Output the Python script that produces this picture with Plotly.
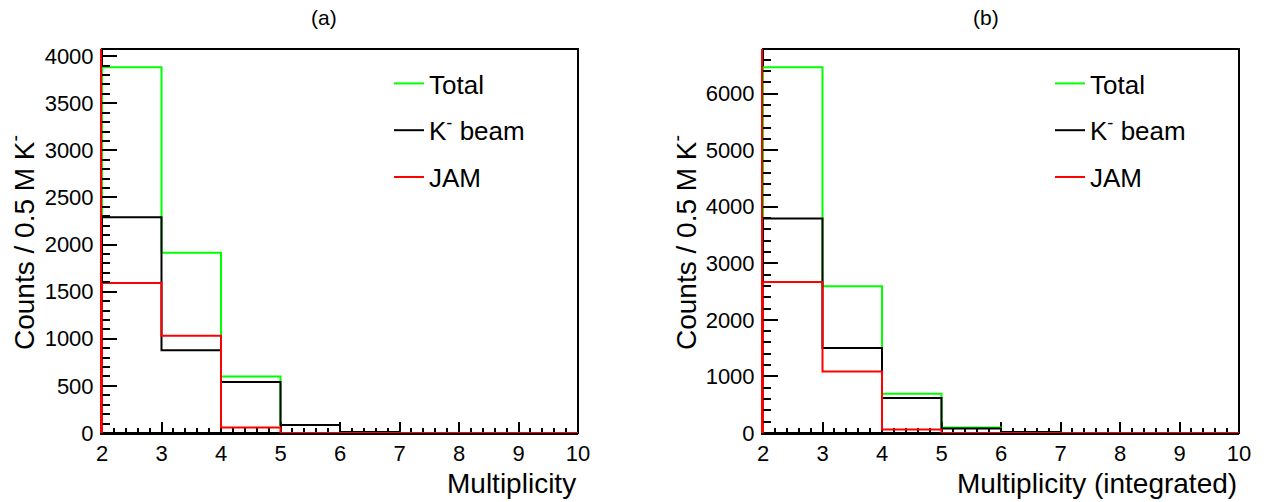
import plotly.graph_objects as go

# Bin edges of the multiplicity histograms (8 unit-wide bins from 2 to 10)
bin_edges = [2, 3, 4, 5, 6, 7, 8, 9, 10]

# (a) Multiplicity
total_a = [3882, 1912, 601, 86, 10, 0, 0, 0]
kbeam_a = [2289, 878, 542, 86, 10, 0, 0, 0]
jam_a = [1593, 1032, 59, 0, 0, 0, 0, 0]

# (b) Multiplicity (integrated)
total_b = [6465, 2592, 694, 96, 16, 0, 0, 0]
kbeam_b = [3790, 1503, 619, 78, 16, 0, 0, 0]
jam_b = [2670, 1089, 62, 0, 0, 0, 0, 0]

series_names = ["Total", "K<sup>-</sup> beam", "JAM"]
series_colors = ["#00ff00", "#000000", "#ff0000"]

W, H = 1268, 502
FONT = "Liberation Sans, Arial, Helvetica, sans-serif"


def step_xy(edges, values):
    """Outline of a histogram drawn as a closed step line."""
    xs = [edges[0]] + list(edges[:-1]) + [edges[-1], edges[-1]]
    ys = [0] + list(values) + [values[-1], 0]
    return xs, ys


def px_x(p):
    return p / W


def px_y(p):
    return 1 - p / H


fig = go.Figure()

panels = [
    dict(data=[total_a, kbeam_a, jam_a], xa="x", ya="y", legend="legend"),
    dict(data=[total_b, kbeam_b, jam_b], xa="x2", ya="y2", legend="legend2"),
]

for pi, panel in enumerate(panels):
    for name, color, vals in zip(series_names, series_colors, panel["data"]):
        xs, ys = step_xy(bin_edges, vals)
        fig.add_trace(go.Scatter(
            x=xs, y=ys, mode="lines", line=dict(color=color, width=2, shape="hv"),
            name=name, legend=panel["legend"], legendgroup=f"{pi}-{name}",
            xaxis=panel["xa"], yaxis=panel["ya"], hoverinfo="skip",
        ))

ymax_a = 1.05 * max(total_a)
ymax_b = 1.05 * max(total_b)

y_dom = [px_y(433), px_y(49)]

xcommon = dict(
    range=[2, 10], dtick=1, tick0=2, ticks="inside", ticklen=11, tickwidth=2,
    tickcolor="black", showline=True, linecolor="black", linewidth=2,
    showgrid=False, zeroline=False, layer="below traces", automargin=False,
    tickfont=dict(family=FONT, size=22, color="black"),
    minor=dict(dtick=0.2, ticks="inside", ticklen=5, tickwidth=2, tickcolor="black", showgrid=False),
    fixedrange=True,
)
ycommon = dict(
    ticks="inside", ticklen=15, tickwidth=2, tickcolor="black",
    showline=True, linecolor="#ff0000", linewidth=2, showgrid=False, zeroline=False,
    tickfont=dict(family=FONT, size=22, color="black"), ticklabelstandoff=2,
    automargin=False, fixedrange=True,
)

legend_style = dict(
    xanchor="left", yanchor="top", bgcolor="rgba(0,0,0,0)", borderwidth=0,
    traceorder="grouped", tracegroupgap=10,
    font=dict(family=FONT, size=26, color="black"),
)

fig.update_layout(
    width=W, height=H, margin=dict(l=0, r=0, t=0, b=0, pad=0, autoexpand=False),
    paper_bgcolor="white", plot_bgcolor="white",
    xaxis=dict(domain=[px_x(102), px_x(578)], anchor="y", **xcommon),
    yaxis=dict(domain=y_dom, anchor="x", range=[0, ymax_a], dtick=500, tick0=0,
               minor=dict(dtick=100, ticks="inside", ticklen=8, tickwidth=2, tickcolor="black", showgrid=False),
               **ycommon),
    xaxis2=dict(domain=[px_x(763), px_x(1239)], anchor="y2", **xcommon),
    yaxis2=dict(domain=y_dom, anchor="x2", range=[0, ymax_b], dtick=1000, tick0=0,
                minor=dict(dtick=200, ticks="inside", ticklen=8, tickwidth=2, tickcolor="black", showgrid=False),
                **ycommon),
    showlegend=True,
    legend=dict(x=px_x(389), y=px_y(60), **legend_style),
    legend2=dict(x=px_x(1050), y=px_y(60), **legend_style),
)

# Frame around each pad (top and right edges)
for xr, yr in [("x domain", "y domain"), ("x2 domain", "y2 domain")]:
    fig.add_shape(type="rect", xref=xr, yref=yr, x0=0, x1=1, y0=0, y1=1,
                  line=dict(color="black", width=2), fillcolor="rgba(0,0,0,0)", layer="below")

annotations = [
    dict(text="(a)", x=px_x(324), y=px_y(18), xanchor="center", yanchor="middle", size=21),
    dict(text="(b)", x=px_x(986), y=px_y(18), xanchor="center", yanchor="middle", size=21),
    dict(text="Multiplicity", x=px_x(578), y=px_y(483), xanchor="right", yanchor="middle", size=28),
    dict(text="Multiplicity (integrated)", x=px_x(1239), y=px_y(483), xanchor="right", yanchor="middle", size=28),
]
for a in annotations:
    fig.add_annotation(text=a["text"], xref="paper", yref="paper", x=a["x"], y=a["y"],
                       xanchor=a["xanchor"], yanchor=a["yanchor"], showarrow=False,
                       font=dict(family=FONT, size=a["size"], color="black"))

for xc in (22, 684):
    fig.add_annotation(text="Counts / 0.5 M K<sup>-</sup>", xref="paper", yref="paper",
                       x=px_x(xc), y=px_y(243), xanchor="center", yanchor="middle",
                       textangle=-90, showarrow=False,
                       font=dict(family=FONT, size=28, color="black"))

fig.write_html("out.html")
